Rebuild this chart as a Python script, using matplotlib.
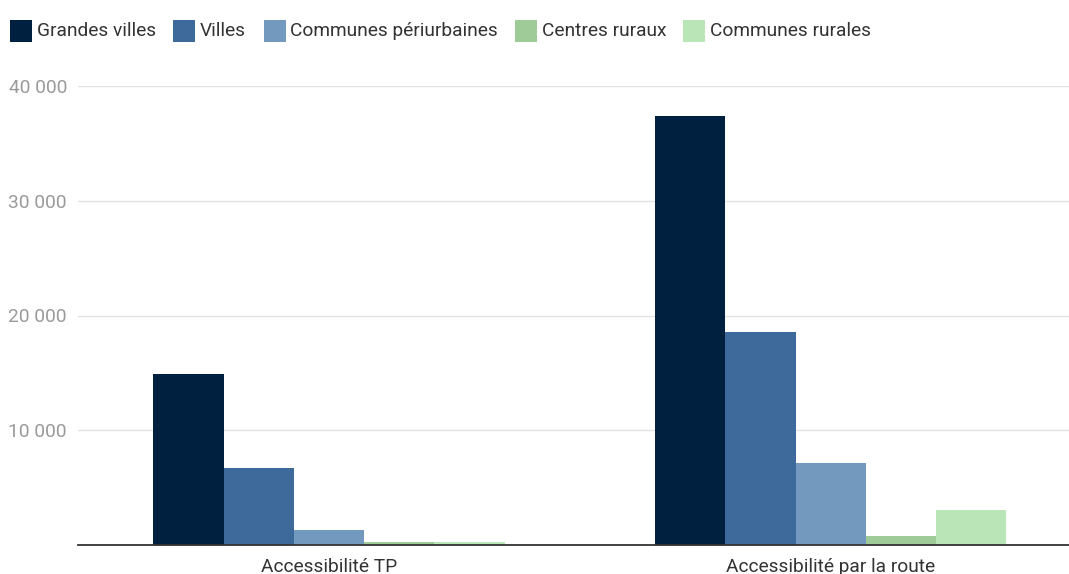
import numpy as np
import matplotlib.pyplot as plt
from matplotlib.patches import Rectangle
from matplotlib.ticker import FuncFormatter

# data
categories = ['Accessibilité TP', 'Accessibilité par la route']
series = ['Grandes villes', 'Villes', 'Communes périurbaines', 'Centres ruraux', 'Communes rurales']
grandes_villes = [14900, 37400]
villes = [6700, 18550]
periurbaines = [1300, 7150]
centres_ruraux = [230, 780]
communes_rurales = [290, 3080]
values = [grandes_villes, villes, periurbaines, centres_ruraux, communes_rurales]
colors = ['#00203f', '#3d6a9a', '#7399bf', '#9ecb97', '#bae5b7']

plt.rcParams['font.family'] = ['Roboto', 'DejaVu Sans']
fs = 13.8
W, H = 1069, 574

fig = plt.figure(figsize=(W / 100, H / 100), dpi=100)
ax = fig.add_axes([78 / W, 29 / H, (W - 78) / W, (545 - 86) / H])

x = np.arange(len(categories))
w = 0.14
for i, (name, vals, c) in enumerate(zip(series, values, colors)):
    ax.bar(x + (i - 2) * w, vals, w, color=c, label=name, zorder=3)

ax.set_xlim(-0.5, 1.475)
ax.set_ylim(0, 40000)
ax.set_yticks([10000, 20000, 30000, 40000])
ax.yaxis.set_major_formatter(FuncFormatter(lambda v, p: '{:,.0f}'.format(v).replace(',', ' ')))
ax.grid(axis='y', color='#e3e3e3', linewidth=1, zorder=0)
ax.set_xticks(x)
ax.set_xticklabels(categories)

for s in ['top', 'right', 'left']:
    ax.spines[s].set_visible(False)
ax.spines['bottom'].set_color('#333333')
ax.spines['bottom'].set_linewidth(1.3)
ax.spines['bottom'].set_zorder(4)

ax.tick_params(axis='y', length=0, labelsize=fs, labelcolor='#9a9a9a', pad=8)
ax.tick_params(axis='x', length=0, labelsize=fs, labelcolor='#333333', pad=9)

# legend drawn by hand (square swatches at the top, in pixels)
sq_left = [9.5, 173, 264, 515, 683]
txt_left = [37, 200, 290, 542, 710]
for name, c, sx, tx in zip(series, colors, sq_left, txt_left):
    fig.add_artist(Rectangle((sx / W, 1 - 42 / H), 22 / W, 22 / H,
                             transform=fig.transFigure, color=c, lw=0))
    fig.text(tx / W, 1 - 31 / H, name, fontsize=fs, color='#333333',
             ha='left', va='center')

fig.savefig('out.png', dpi=100)
